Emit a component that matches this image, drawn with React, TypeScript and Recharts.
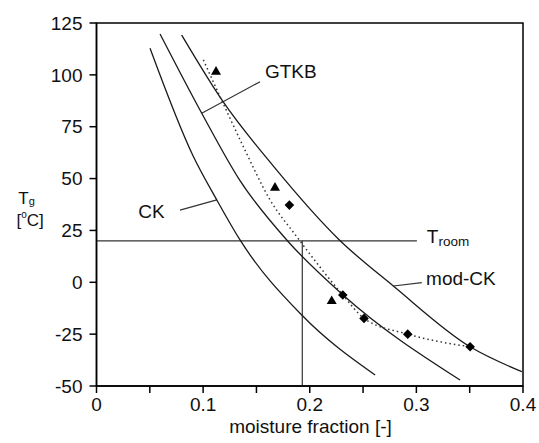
import { ComposedChart, Line, Scatter, XAxis, YAxis, ReferenceLine, ReferenceArea, ReferenceDot } from "recharts";

// curves (moisture fraction, Tg in °C)
const ckX = [0.0502, 0.0905, 0.1128, 0.1346, 0.1925, 0.2613];
const ckY = [112.8, 61, 39.7, 20.4, -15.8, -44.7];

const gtkbX = [0.0596, 0.0987, 0.1346, 0.1784, 0.2312, 0.341];
const gtkbY = [119.7, 81.5, 49, 20.4, -6.1, -47.1];

const modCkX = [0.0799, 0.1187, 0.1659, 0.2278, 0.2784, 0.3504, 0.3989];
const modCkY = [119.2, 87.1, 56, 20.4, -1.8, -31.1, -43.1];

const dottedX = [0.1002, 0.119, 0.139, 0.1628, 0.1878, 0.231, 0.2509, 0.2919, 0.3504];
const dottedY = [107.2, 86, 64, 39.7, 22, -6.1, -17.4, -25, -31.1];

const triX = [0.1121, 0.1674, 0.2206];
const triY = [102, 46.1, -8.6];

const diaX = [0.1809, 0.231, 0.2509, 0.2919, 0.3504];
const diaY = [37.2, -6.1, -17.4, -25, -31.1];

const xTicks = [0, 0.05, 0.1, 0.15, 0.2, 0.25, 0.3, 0.35, 0.4];
const xTickText = ["0", "", "0.1", "", "0.2", "", "0.3", "", "0.4"];
const yTicks = [-50, -25, 0, 25, 50, 75, 100, 125];

const tRoom = 20;
const xCut = 0.193;

const zip = (xs: number[], ys: number[]) => xs.map((x, i) => ({ x, y: ys[i] }));

const FONT = "'Liberation Sans', Arial, sans-serif";
const INK = "#1a1a1a";

const Triangle = (p: any) => (
  <polygon
    points={`${p.cx},${p.cy - 4.6} ${p.cx + 5},${p.cy + 4} ${p.cx - 5},${p.cy + 4}`}
    fill="#000"
  />
);

const Diamond = (p: any) => (
  <polygon
    points={`${p.cx},${p.cy - 4.8} ${p.cx + 4.8},${p.cy} ${p.cx},${p.cy + 4.8} ${p.cx - 4.8},${p.cy}`}
    fill="#000"
  />
);

const note = (text: string, sub?: string) => (p: any) => (
  <text x={p.cx} y={p.cy} fontFamily={FONT} fontSize={19} fill="#111">
    {text}
    {sub && (
      <tspan fontSize={13.5} dy={3}>
        {sub}
      </tspan>
    )}
  </text>
);

export default function App() {
  const curve = { stroke: INK, strokeWidth: 1.3, dot: false, isAnimationActive: false, type: "monotone" as const };
  const thin = { stroke: "#333", strokeWidth: 1.2 };
  return (
    <div style={{ position: "absolute", left: 0, top: 0, width: 539, height: 443, background: "#fff" }}>
      <ComposedChart width={539} height={443} margin={{ top: 23, right: 16, left: 36.5, bottom: 27 }}>
        <XAxis
          dataKey="x"
          type="number"
          domain={[0, 0.4]}
          ticks={xTicks}
          tickFormatter={(v: number) => xTickText[xTicks.indexOf(v)] ?? ""}
          interval={0}
          height={30}
          tickSize={7}
          tickMargin={5}
          stroke="#000"
          strokeWidth={1.5}
          tick={{ fill: "#111", fontSize: 19, fontFamily: FONT }}
          allowDataOverflow
        />
        <YAxis
          type="number"
          domain={[-50, 125]}
          ticks={yTicks}
          interval={0}
          width={60}
          tickSize={7}
          tickMargin={7}
          stroke="#000"
          strokeWidth={1.5}
          tick={{ fill: "#111", fontSize: 19, fontFamily: FONT }}
          allowDataOverflow
        />
        <ReferenceArea x1={0} x2={0.4} y1={-50} y2={125} fill="none" stroke="#000" strokeWidth={1.5} />

        <ReferenceLine segment={[{ x: 0, y: tRoom }, { x: 0.3005, y: tRoom }]} {...thin} />
        <ReferenceLine segment={[{ x: xCut, y: -50 }, { x: xCut, y: tRoom }]} {...thin} />

        <ReferenceLine segment={[{ x: 0.0987, y: 81.5 }, { x: 0.1534, y: 96.7 }]} {...thin} />
        <ReferenceLine segment={[{ x: 0.0783, y: 34.8 }, { x: 0.1128, y: 39.7 }]} {...thin} />
        <ReferenceLine segment={[{ x: 0.2784, y: -1.8 }, { x: 0.3051, y: -0.2 }]} {...thin} />

        <Line data={zip(ckX, ckY)} dataKey="y" {...curve} />
        <Line data={zip(gtkbX, gtkbY)} dataKey="y" {...curve} />
        <Line data={zip(modCkX, modCkY)} dataKey="y" {...curve} />
        <Line
          data={zip(dottedX, dottedY)}
          dataKey="y"
          type="monotone"
          stroke="#333"
          strokeWidth={1.5}
          strokeDasharray="1.5 3"
          dot={false}
          isAnimationActive={false}
        />

        <Scatter data={zip(triX, triY)} dataKey="y" shape={Triangle} isAnimationActive={false} />
        <Scatter data={zip(diaX, diaY)} dataKey="y" shape={Diamond} isAnimationActive={false} />

        <ReferenceDot x={0.158} y={98.3} r={0} shape={note("GTKB")} />
        <ReferenceDot x={0.0392} y={30.8} r={0} shape={note("CK")} />
        <ReferenceDot x={0.3091} y={-1.3} r={0} shape={note("mod-CK")} />
        <ReferenceDot x={0.3098} y={18.8} r={0} shape={note("T", "room")} />
      </ComposedChart>
      <svg width={539} height={443} style={{ position: "absolute", left: 0, top: 0, pointerEvents: "none" }}>
        <text x={310.5} y={433} textAnchor="middle" fontFamily={FONT} fontSize={19} fill="#111">
          moisture fraction [-]
        </text>
        <text x={18.3} y={203.5} fontFamily={FONT} fontSize={17} fill="#111">
          T
          <tspan fontSize={11} dy={1.5}>
            g
          </tspan>
        </text>
        <text x={16.5} y={226} fontFamily={FONT} fontSize={17} fill="#111">
          [
          <tspan fontSize={10} dy={-8}>
            o
          </tspan>
          <tspan dy={8}>C]</tspan>
        </text>
      </svg>
    </div>
  );
}
